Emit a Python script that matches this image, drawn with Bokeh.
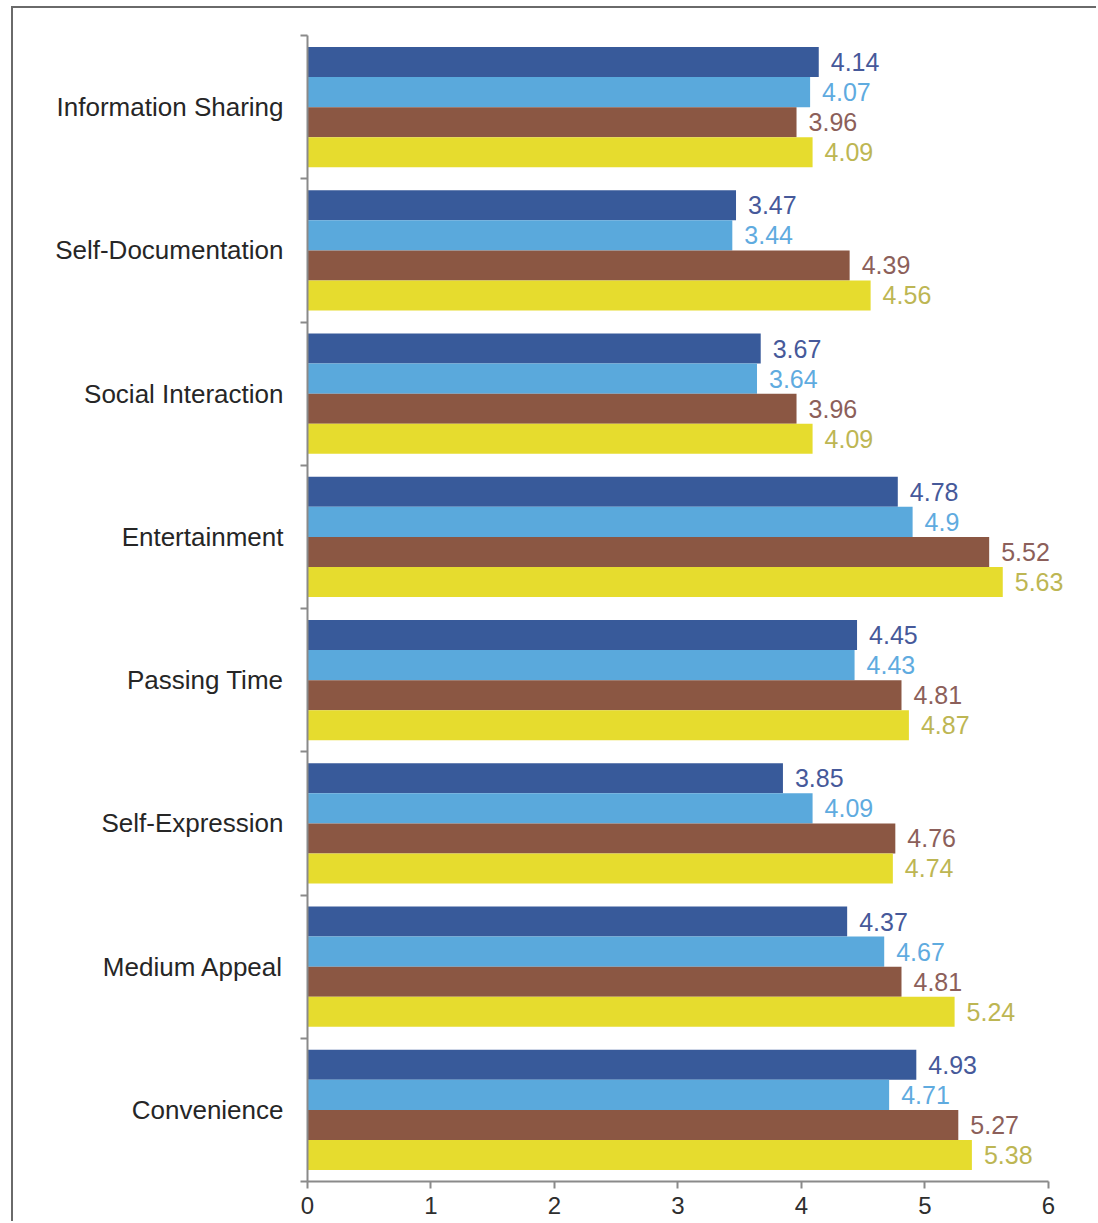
from bokeh.plotting import figure
from bokeh.models import ColumnDataSource, FixedTicker, Range1d
from bokeh.embed import file_html
from bokeh.resources import INLINE
from bokeh.core.properties import value

categories = ["Information Sharing", "Self-Documentation", "Social Interaction",
              "Entertainment", "Passing Time", "Self-Expression", "Medium Appeal", "Convenience"]
series_1 = [4.14, 3.47, 3.67, 4.78, 4.45, 3.85, 4.37, 4.93]
series_2 = [4.07, 3.44, 3.64, 4.9, 4.43, 4.09, 4.67, 4.71]
series_3 = [3.96, 4.39, 3.96, 5.52, 4.81, 4.76, 4.81, 5.27]
series_4 = [4.09, 4.56, 4.09, 5.63, 4.87, 4.74, 5.24, 5.38]
x_ticks = [0, 1, 2, 3, 4, 5, 6]

series = [series_1, series_2, series_3, series_4]
bar_colors = ["#385a9a", "#5aa9dc", "#8b5743", "#e6dc2e"]
label_colors = ["#46599a", "#5fabdf", "#8c5f5a", "#bdb653"]
offsets = [0.315, 0.105, -0.105, -0.315]
bar_h = 0.21

n = len(categories)
centers = [n - i - 0.5 for i in range(n)]

p = figure(width=1085, height=1215, output_backend="svg", toolbar_location=None,
           x_range=Range1d(0, 6.3), y_range=Range1d(0, n),
           min_border_left=294, min_border_right=13, min_border_top=27, min_border_bottom=42)
p.margin = (6, 0, 0, 11)
p.styles = {"border-left": "2px solid #6a6a6a", "border-top": "2px solid #6a6a6a"}

for vals, bc, lc, off in zip(series, bar_colors, label_colors, offsets):
    ys = [c + off for c in centers]
    src = ColumnDataSource(dict(y=ys, right=vals, txt=[f"{v:g}" for v in vals]))
    p.hbar(y="y", left=0, right="right", height=bar_h, fill_color=bc, line_color=None, source=src)
    p.text(x="right", y="y", text="txt", source=src, x_offset=12, text_baseline="middle",
           text_align="left", text_color=lc, text_font=value("Liberation Sans"),
           text_font_size="25px")

p.grid.visible = False
p.outline_line_color = None
p.background_fill_color = "white"
p.border_fill_color = "white"

# x axis
p.xaxis.ticker = FixedTicker(ticks=x_ticks)
p.xaxis.bounds = (0, 6)
p.xaxis.axis_line_color = "#8a8a8a"
p.xaxis.axis_line_width = 2
p.xaxis.major_tick_line_color = "#8a8a8a"
p.xaxis.major_tick_line_width = 2
p.xaxis.major_tick_out = 7
p.xaxis.major_tick_in = 0
p.xaxis.minor_tick_out = 0
p.xaxis.major_label_standoff = 8
p.xaxis.major_label_text_font = "Liberation Sans"
p.xaxis.major_label_text_font_size = "24px"
p.xaxis.major_label_text_color = "#2e2e2e"

# y axis
p.yaxis.ticker = FixedTicker(ticks=centers, minor_ticks=list(range(0, n + 1)))
p.yaxis.major_label_overrides = {c: cat for c, cat in zip(centers, categories)}
p.yaxis.axis_line_color = "#8a8a8a"
p.yaxis.axis_line_width = 2
p.yaxis.major_tick_out = 0
p.yaxis.major_tick_in = 0
p.yaxis.minor_tick_out = 7
p.yaxis.minor_tick_in = 0
p.yaxis.minor_tick_line_color = "#8a8a8a"
p.yaxis.minor_tick_line_width = 2
p.yaxis.major_label_standoff = 17
p.yaxis.major_label_text_font = "Liberation Sans"
p.yaxis.major_label_text_font_size = "26px"
p.yaxis.major_label_text_color = "#262626"

open("out.html", "w").write(file_html(p, INLINE))
